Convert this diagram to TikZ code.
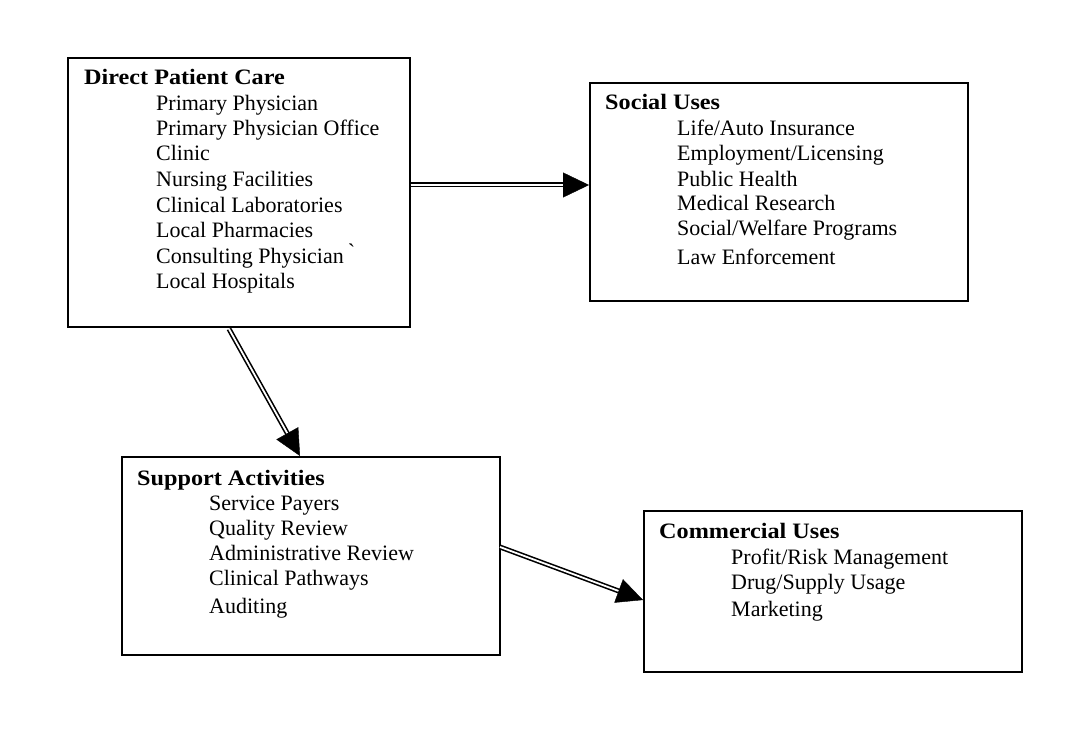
\documentclass[tikz,border=0pt]{standalone}
\usepackage{fontspec}
\setmainfont{Liberation Serif}
\usetikzlibrary{arrows.meta,calc}
\begin{document}
\begin{tikzpicture}[x=1pt,y=-1pt,
  box/.style={draw, line width=1.6pt, inner sep=0pt, anchor=north west},
  txt/.style={anchor=base west, inner sep=0pt, font=\fontsize{22}{26}\selectfont},
  ttl/.style={txt, font=\fontsize{22}{26}\selectfont\bfseries},
  dbl/.style={double, line width=1.6pt, double distance=1.8pt},
  tip/.style={-{Triangle[length=26pt,width=25pt]}, line width=0.4pt}
]
\useasboundingbox[fill=white] (0,0) rectangle (1080,749);
\node[box, minimum width=342pt, minimum height=269pt] (dpc) at (67,57) {};
\node[box, minimum width=378pt, minimum height=218pt] (su) at (589,82) {};
\node[box, minimum width=378pt, minimum height=198pt] (sa) at (121,456) {};
\node[box, minimum width=378pt, minimum height=161pt] (cu) at (643,510) {};

% Direct Patient Care
\node[ttl] (d0) at (84,85) {\scalebox{1.1}[1]{Direct Patient Care}};
\node[txt] (d1) at (156,111) {Primary Physician};
\node[txt] (d2) at (156,136) {Primary Physician Office};
\node[txt] (d3) at (156,161) {Clinic};
\node[txt] (d4) at (156,186) {Nursing Facilities};
\node[txt] (d5) at (156,212) {Clinical Laboratories};
\node[txt] (d6) at (156,237) {Local Pharmacies};
\node[txt] (d7) at (156,263) {Consulting Physician \`{}};
\node[txt] (d8) at (156,288) {Local Hospitals};

% Social Uses
\node[ttl] (s0) at (605,110) {\scalebox{1.1}[1]{Social Uses}};
\node[txt] (s1) at (677,136) {Life/Auto Insurance};
\node[txt] (s2) at (677,161) {Employment/Licensing};
\node[txt] (s3) at (677,187) {Public Health};
\node[txt] (s4) at (677,211) {Medical Research};
\node[txt] (s5) at (677,236) {Social/Welfare Programs};
\node[txt] (s6) at (677,264) {Law Enforcement};

% Support Activities
\node[ttl] (p0) at (137,485) {\scalebox{1.1}[1]{Support Activities}};
\node[txt] (p1) at (209,510) {Service Payers};
\node[txt] (p2) at (209,535) {Quality Review};
\node[txt] (p3) at (209,560) {Administrative Review};
\node[txt] (p4) at (209,585) {Clinical Pathways};
\node[txt] (p5) at (209,613) {Auditing};

% Commercial Uses
\node[ttl] (c0) at (659,538) {\scalebox{1.1}[1]{Commercial Uses}};
\node[txt] (c1) at (731,564) {Profit/Risk Management};
\node[txt] (c2) at (731,589) {Drug/Supply Usage};
\node[txt] (c3) at (731,616) {Marketing};

% connectors
\coordinate (a1s) at (dpc.east |- 0,185);
\coordinate (a1e) at (su.west |- 0,185);
\coordinate (a2s) at (229,329);
\coordinate (a2e) at (sa.north -| 300,0);
\coordinate (a3s) at (500,547);
\coordinate (a3e) at (cu.west |- 0,600);

\draw[dbl] (a1s) -- ($(a1e)!20pt!(a1s)$);
\draw[tip] ($(a1e)!26pt!(a1s)$) -- (a1e);
\draw[dbl] (a2s) -- ($(a2e)!20pt!(a2s)$);
\draw[tip] ($(a2e)!26pt!(a2s)$) -- (a2e);
\draw[dbl] (a3s) -- ($(a3e)!20pt!(a3s)$);
\draw[tip] ($(a3e)!26pt!(a3s)$) -- (a3e);
\end{tikzpicture}
\end{document}
